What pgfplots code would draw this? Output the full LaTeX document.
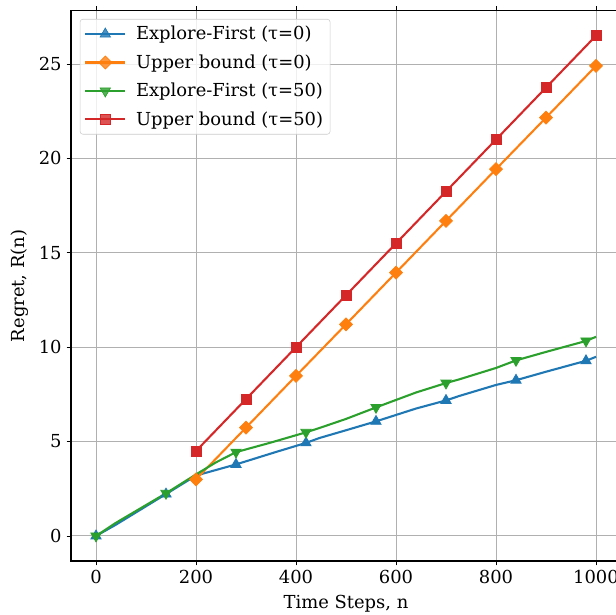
\documentclass[border=0pt]{standalone}
\usepackage{fontspec}
\setmainfont{DejaVu Serif}
\usepackage{pgfplots}
\pgfplotsset{compat=1.18}
\definecolor{mblue}{HTML}{1F77B4}
\definecolor{morange}{HTML}{FF7F0E}
\definecolor{mgreen}{HTML}{2CA02C}
\definecolor{mred}{HTML}{D62728}
\definecolor{gridgray}{HTML}{B0B0B0}
\definecolor{leggray}{HTML}{CCCCCC}

\newcommand{\fs}{\fontsize{12.9}{15}\selectfont}

\begin{document}
\begin{tikzpicture}
\begin{axis}[
    at={(0,0)}, anchor=south west,
    scale only axis,
    width=396pt, height=396.2pt,
    xmin=-50, xmax=1050,
    ymin=-1.325, ymax=27.825,
    xtick={0,200,...,1000},
    ytick={0,5,...,25},
    /pgf/number format/1000 sep={},
    /pgf/number format/assume math mode=true,
    tick label style={font=\fs},
    grid=major,
    grid style={color=gridgray, line width=0.7pt},
    tick align=outside,
    major tick length=3.2pt,
    tick style={black, line width=0.6pt},
    axis line style={black, line width=0.8pt},
    xlabel={Time Steps, n},
    ylabel={Regret, R(n)},
    every axis x label/.style={at={([yshift=-31pt]axis description cs:0.5,0)}, anchor=center, font=\fs},
    every axis y label/.style={at={([xshift=-37pt]axis description cs:0,0.5)}, rotate=90, anchor=center, font=\fs},
    legend cell align=left,
    legend style={at={(0.016,0.985)}, anchor=north west, draw=leggray,
        rounded corners=2pt, fill=white, fill opacity=0.8, text opacity=1,
        font=\fs, row sep=5.2pt, inner xsep=3pt, inner ysep=3pt,
        /tikz/every odd column/.append style={column sep=5pt}},
    legend image code/.code={
        \draw[mark=none] (0pt,0pt) -- (28.8pt,0pt);
        \draw plot coordinates {(14.4pt,0pt)};
    },
    every axis plot/.append style={line width=1.5pt},
]

% Explore-First, tau=0
\addplot[color=mblue, mark=triangle*, mark size=4.3pt,
    mark options={solid, fill=mblue, line width=0.5pt},
    mark indices={1,3,5,7,10,12,15,17}] coordinates {
    (0,0) (40,0.6) (140,2.22) (200,3.2) (280,3.79) (360,4.45) (420,4.93)
    (447,5.19) (500,5.6) (560,6.07) (640,6.75) (700,7.18) (727,7.42)
    (800,8.0) (840,8.25) (900,8.7) (980,9.28) (1000,9.49)
};
\addlegendentry{Explore-First (τ=0)}

% Upper bound, tau=0
\addplot[color=morange, mark=square*, mark size=3.3pt,
    mark options={solid, fill=morange, line width=0.5pt, rotate=45}] coordinates {
    (200,3.0) (300,5.74) (400,8.48) (500,11.21) (600,13.95)
    (700,16.69) (800,19.43) (900,22.16) (1000,24.9)
};
\addlegendentry{Upper bound (τ=0)}

% Explore-First, tau=50
\addplot[color=mgreen, mark=triangle*, mark size=4.3pt,
    mark options={solid, fill=mgreen, rotate=180, line width=0.5pt},
    mark indices={1,3,6,8,11,13,16,18}] coordinates {
    (0,0) (40,0.7) (140,2.26) (200,3.26) (240,3.9) (280,4.44) (350,4.95)
    (420,5.49) (447,5.72) (500,6.2) (560,6.81) (640,7.6) (700,8.1)
    (727,8.3) (800,8.9) (840,9.3) (900,9.75) (980,10.33) (1000,10.55)
};
\addlegendentry{Explore-First (τ=50)}

% Upper bound, tau=50
\addplot[color=mred, mark=square*, mark size=3.7pt,
    mark options={solid, fill=mred, line width=0.5pt}] coordinates {
    (200,4.5) (300,7.25) (400,10.0) (500,12.75) (600,15.5)
    (700,18.25) (800,21.0) (900,23.75) (1000,26.5)
};
\addlegendentry{Upper bound (τ=50)}

\end{axis}
\pgfresetboundingbox
\useasboundingbox (-51.12pt,-38.88pt) rectangle (392.4pt,403.9pt);
\end{tikzpicture}
\end{document}
